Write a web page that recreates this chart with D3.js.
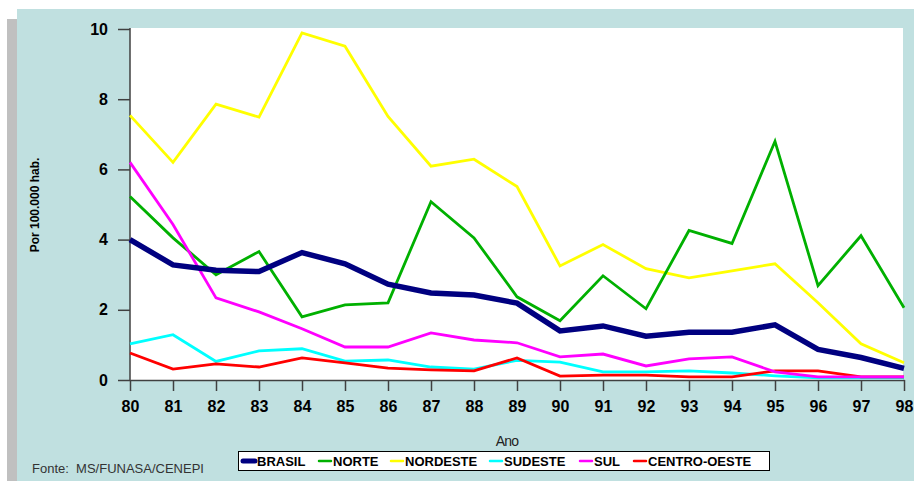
<!DOCTYPE html>
<html>
<head>
<meta charset="utf-8">
<script src="https://cdn.jsdelivr.net/npm/d3@7"></script>
<style>
  body { margin: 0; background: #fff; }
  text { font-family: "Liberation Sans", Arial, sans-serif; }
</style>
</head>
<body>
<svg id="chart" width="914" height="481"></svg>
<script>
// years on x axis
const years = ["80","81","82","83","84","85","86","87","88","89","90","91","92","93","94","95","96","97","98"];
const yTicks = [0, 2, 4, 6, 8, 10];

const brasil      = [4.00,3.28,3.13,3.09,3.63,3.31,2.73,2.48,2.42,2.19,1.40,1.54,1.25,1.36,1.36,1.57,0.87,0.64,0.33];
const norte       = [5.23,4.05,3.00,3.66,1.80,2.14,2.20,5.08,4.05,2.37,1.69,2.97,2.03,4.26,3.89,6.80,2.69,4.11,2.06];
const nordeste    = [7.54,6.20,7.86,7.49,9.89,9.51,7.51,6.09,6.29,5.51,3.25,3.86,3.17,2.91,3.11,3.31,2.20,1.03,0.49];
const sudeste     = [1.03,1.29,0.53,0.83,0.89,0.54,0.57,0.37,0.31,0.56,0.51,0.23,0.23,0.26,0.20,0.12,0.06,0.06,0.06];
const sul         = [6.20,4.43,2.34,1.94,1.46,0.94,0.94,1.34,1.14,1.06,0.66,0.74,0.40,0.60,0.66,0.23,0.09,0.09,0.09];
const centroOeste = [0.77,0.31,0.46,0.37,0.63,0.49,0.34,0.29,0.26,0.63,0.11,0.14,0.14,0.09,0.09,0.26,0.26,0.09,0.09];

const seriesNames = ["BRASIL","NORTE","NORDESTE","SUDESTE","SUL","CENTRO-OESTE"];
const seriesValues = [brasil, norte, nordeste, sudeste, sul, centroOeste];
const seriesColors = ["#000080","#00b000","#ffff00","#00ffff","#ff00ff","#ff0000"];

const svg = d3.select("#chart");

// background panels
svg.append("rect").attr("x", 7).attr("y", 19).attr("width", 920).attr("height", 480).attr("fill", "#c0c0c0");
svg.append("rect").attr("x", 17).attr("y", 9).attr("width", 910).attr("height", 480).attr("fill", "#c0e0e0");

const plotLeft = 130, plotRight = 904, plotTop = 29, plotBottom = 380;

svg.append("rect").attr("x", plotLeft).attr("y", 28).attr("width", 903 - plotLeft).attr("height", plotBottom - 28).attr("fill", "#fff");

const x = d3.scalePoint().domain(years).range([plotLeft, plotRight]);
const y = d3.scaleLinear().domain([0, 10]).range([plotBottom, plotTop]);

// y axis
const yAxis = svg.append("g")
  .attr("transform", "translate(" + plotLeft + ",0)")
  .call(d3.axisLeft(y).tickValues(yTicks).tickSize(12).tickSizeOuter(0).tickPadding(10));
yAxis.select(".domain").attr("stroke", "#404040").attr("stroke-width", 1.5).attr("d", "M0,28V" + plotBottom);
yAxis.selectAll(".tick line").attr("stroke", "#404040").attr("stroke-width", 1.5);
yAxis.selectAll("text").attr("font-size", 16).attr("font-weight", "bold").attr("fill", "#000")
  .attr("font-family", "Liberation Sans, Arial, sans-serif");

// x axis
const xAxis = svg.append("g")
  .attr("transform", "translate(0," + plotBottom + ")")
  .call(d3.axisBottom(x).tickSize(11).tickSizeOuter(0).tickPadding(10));
xAxis.select(".domain").attr("stroke", "#404040").attr("stroke-width", 1.5);
xAxis.selectAll(".tick line").attr("stroke", "#404040").attr("stroke-width", 1.5);
xAxis.selectAll("text").attr("font-size", 16).attr("font-weight", "bold").attr("fill", "#000")
  .attr("font-family", "Liberation Sans, Arial, sans-serif");

// lines
const line = d3.line()
  .x(function (d, i) { return x(years[i]); })
  .y(function (d) { return y(d); });

const drawOrder = [2, 1, 3, 5, 4, 0];
drawOrder.forEach(function (k) {
  svg.append("path")
    .datum(seriesValues[k])
    .attr("d", line)
    .attr("fill", "none")
    .attr("stroke", seriesColors[k])
    .attr("stroke-width", k === 0 ? 5.5 : 2.8)
    .attr("stroke-linejoin", "miter");
});

// axis titles
svg.append("text")
  .attr("transform", "translate(39,205)rotate(-90)")
  .attr("text-anchor", "middle")
  .attr("font-size", 12)
  .attr("font-weight", "bold")
  .text("Por 100.000 hab.");

svg.append("text")
  .attr("x", 507).attr("y", 446)
  .attr("text-anchor", "middle")
  .attr("font-size", 14)
  .attr("letter-spacing", -0.8)
  .attr("fill", "#222")
  .text("Ano");

svg.append("text")
  .attr("x", 32).attr("y", 473)
  .attr("font-size", 13)
  .attr("fill", "#333")
  .attr("xml:space", "preserve")
  .text("Fonte:  MS/FUNASA/CENEPI");

// legend
const legend = svg.append("g");
legend.append("rect").attr("x", 238.5).attr("y", 451.5).attr("width", 531).attr("height", 19)
  .attr("fill", "#fff").attr("stroke", "#000").attr("stroke-width", 1);

const legendX = [241, 317, 389, 488, 578, 632];
seriesNames.forEach(function (name, i) {
  legend.append("line")
    .attr("x1", legendX[i] + 2).attr("x2", legendX[i] + 14)
    .attr("y1", 461).attr("y2", 461)
    .attr("stroke", seriesColors[i])
    .attr("stroke-width", i === 0 ? 5 : 2.5)
    .attr("stroke-linecap", "round");
  legend.append("text")
    .attr("x", legendX[i] + 16).attr("y", 466)
    .attr("font-size", 13)
    .attr("font-weight", "bold")
    .text(name);
});
</script>
</body>
</html>
